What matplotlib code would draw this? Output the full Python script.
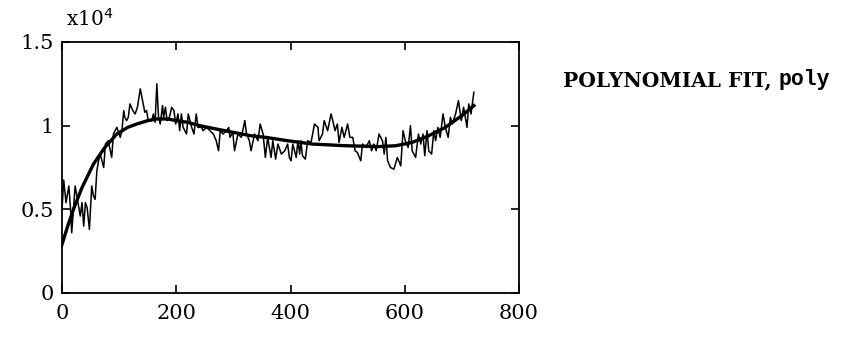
import matplotlib
matplotlib.use("Agg")
import matplotlib.pyplot as plt
import numpy as np

# noisy signal (y in units of 1e4)
sig_x = [0, 3, 7, 12, 15, 17, 23, 26, 32, 35, 38, 41, 44, 48, 52, 55, 58, 61, 64, 67,
         73, 76, 81, 87, 90, 96, 102, 105, 108, 110, 113, 116, 119, 124, 128, 132, 137, 141, 145, 148,
         151, 157, 160, 163, 166, 169, 172, 176, 178, 181, 184, 188, 192, 196, 199, 203, 206, 209, 212, 218,
         221, 227, 231, 235, 238, 244, 247, 253, 259, 265, 270, 274, 277, 282, 288, 292, 294, 299, 302, 308,
         314, 320, 323, 328, 331, 337, 343, 347, 352, 356, 360, 366, 369, 374, 378, 384, 390, 395, 398, 401,
         404, 410, 413, 416, 418, 421, 426, 430, 436, 442, 448, 450, 456, 459, 465, 471, 474, 478, 482, 485,
         490, 494, 500, 504, 509, 513, 517, 523, 526, 532, 538, 542, 546, 550, 555, 561, 564, 567, 570, 575,
         581, 587, 593, 597, 601, 606, 610, 613, 619, 624, 628, 632, 635, 639, 642, 647, 651, 654, 658, 662,
         667, 671, 676, 680, 683, 689, 694, 699, 703, 709, 712, 716, 721]
sig_y = [0.50, 0.675, 0.54, 0.64, 0.50, 0.36, 0.64, 0.58, 0.46, 0.54, 0.40, 0.54, 0.51, 0.38, 0.64, 0.58, 0.56, 0.73, 0.79, 0.83,
         0.75, 0.89, 0.91, 0.81, 0.95, 0.99, 0.93, 0.97, 1.09, 1.05, 1.03, 1.05, 1.13, 1.09, 1.07, 1.11, 1.22, 1.15, 1.08, 1.09,
         1.03, 1.03, 1.07, 1.02, 1.25, 1.05, 1.01, 1.12, 1.05, 1.11, 1.03, 1.05, 1.11, 1.09, 1.01, 1.07, 0.97, 1.07, 0.99, 0.95,
         1.07, 0.99, 0.95, 1.07, 0.99, 0.99, 0.97, 0.99, 0.97, 0.95, 0.91, 0.85, 0.97, 0.95, 0.97, 0.99, 0.93, 0.96, 0.85, 0.95,
         0.93, 1.03, 0.95, 0.91, 0.85, 0.95, 0.91, 1.01, 0.95, 0.81, 0.93, 0.81, 0.91, 0.80, 0.89, 0.83, 0.85, 0.89, 0.81, 0.79,
         0.89, 0.81, 0.91, 0.83, 0.91, 0.82, 0.80, 0.91, 0.90, 1.01, 0.99, 0.91, 0.95, 1.03, 0.97, 1.07, 1.03, 0.97, 1.01, 0.90,
         0.99, 0.93, 1.01, 0.93, 0.93, 0.85, 0.84, 0.79, 0.89, 0.87, 0.91, 0.85, 0.89, 0.85, 0.95, 0.91, 0.83, 0.93, 0.79, 0.75,
         0.74, 0.81, 0.76, 0.97, 0.91, 0.87, 1.00, 0.85, 0.81, 0.95, 0.89, 0.95, 0.82, 0.97, 0.85, 0.83, 0.97, 0.91, 0.99, 0.93,
         1.07, 0.99, 0.93, 1.05, 1.01, 1.07, 1.15, 1.03, 1.11, 0.99, 1.13, 1.07, 1.20]

# polynomial fit curve
fit_x = [0, 10, 20, 35, 55, 75, 96, 115, 131, 150, 166, 185, 200, 220, 241, 270, 300, 330,
         357, 395, 439, 497, 555, 584, 613, 642, 671, 700, 721]
fit_y = [0.29, 0.40, 0.50, 0.63, 0.77, 0.87, 0.95, 0.99, 1.01, 1.03, 1.04, 1.04, 1.03, 1.02,
         1.00, 0.98, 0.96, 0.94, 0.93, 0.91, 0.89, 0.88, 0.875, 0.88, 0.90, 0.94, 0.99, 1.06, 1.12]

xticks = [0, 200, 400, 600, 800]
yticks = [0, 5000, 10000, 15000]
ytick_labels = ["0", "0.5", "1", "1.5"]

sig_y = np.array(sig_y) * 1e4
fit_y = np.array(fit_y) * 1e4

fig = plt.figure(figsize=(8.53, 3.43), dpi=100)
ax = fig.add_axes([62 / 853, 1 - 293 / 343, 457 / 853, 251 / 343])

ax.plot(sig_x, sig_y, color="black", lw=1.1)
ax.plot(fit_x, fit_y, color="black", lw=2.4)

ax.set_xlim(0, 800)
ax.set_ylim(0, 15000)
ax.set_xticks(xticks)
ax.set_yticks(yticks)
ax.set_xticklabels([str(t) for t in xticks])
ax.set_yticklabels(ytick_labels)
ax.tick_params(direction="in", length=6, width=1.2, top=True, right=True,
               labelsize=15, colors="black")
ax.tick_params(axis="x", pad=8)
ax.tick_params(axis="y", pad=6)
for lab in ax.get_xticklabels() + ax.get_yticklabels():
    lab.set_family("DejaVu Serif")
for s in ax.spines.values():
    s.set_linewidth(1.3)

fig.text(66 / 853, 1 - 19 / 343, r"x10$^4$", family="DejaVu Serif", fontsize=14.5,
         va="center", ha="left")

t = fig.text(563 / 853, 1 - 80 / 343, "POLYNOMIAL FIT, ", family="DejaVu Serif",
             fontweight="bold", fontsize=14.5, va="center", ha="left")
fig.canvas.draw()
bb = t.get_window_extent()
fig.text(bb.x1 / 853, 1 - 80 / 343, "poly", family="Liberation Mono",
         fontweight="bold", fontsize=15.5, va="center", ha="left")

fig.savefig("out.png", dpi=100)
